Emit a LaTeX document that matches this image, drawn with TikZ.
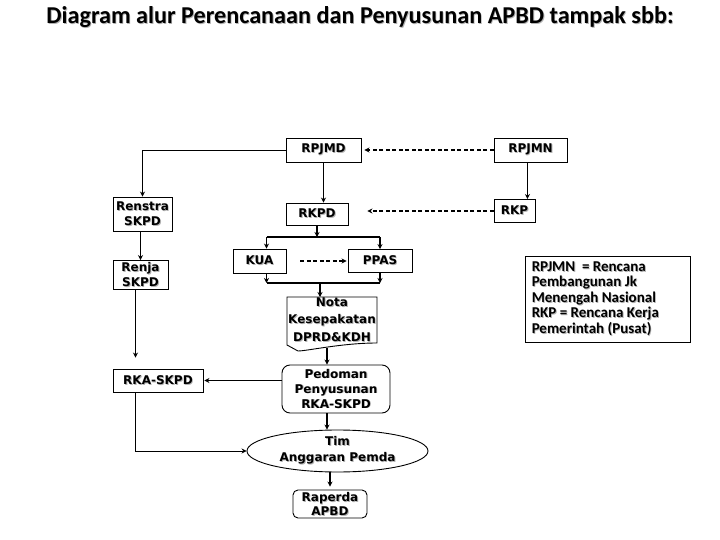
\documentclass[tikz,border=0pt]{standalone}
\usepackage{fontspec}
\setmainfont{DejaVu Sans}
\newfontfamily\titlefont{Carlito}
\usetikzlibrary{arrows.meta,shapes.geometric}
\newcommand\shd[1]{\leavevmode\rlap{\kern0.9pt\raisebox{-0.9pt}{\color{black!30}#1}}#1}
\tikzset{
  box/.style={draw, line width=0.9pt, inner sep=0pt, align=center, font=\bfseries\fontsize{12}{15}\selectfont},
  conn/.style={line width=1.3pt, -{Stealth[length=5pt,width=5pt]}},
  thinconn/.style={line width=0.9pt, -{Stealth[length=5pt,width=5pt]}},
  dasharr/.style={line width=1.2pt, dash pattern=on 4pt off 2.5pt, -{Stealth[length=5pt,width=5pt]}},
  plainline/.style={line width=1.3pt}
}
\begin{document}
\begin{tikzpicture}[x=1pt,y=-1pt]
\useasboundingbox (0,0) rectangle (720,540);
\fill[white] (0,0) rectangle (720,540);

\node[font=\titlefont\bfseries\fontsize{24.2}{28}\selectfont, inner sep=0pt] (title) at (360,18) {\shd{Diagram alur Perencanaan dan Penyusunan APBD tampak sbb:}};

\node[box, minimum width=75pt, minimum height=24pt] (rpjmd) at (323.5,150) {\shd{RPJMD}};
\node[box, minimum width=73pt, minimum height=24pt] (rpjmn) at (530.5,150) {\shd{RPJMN}};
\node[box, minimum width=59pt, minimum height=34pt] (renstra) at (142.5,214) {\shd{Renstra}\\\shd{SKPD}};
\node[box, minimum width=62pt, minimum height=22pt] (rkpd) at (317,214) {\shd{RKPD}};
\node[box, minimum width=41pt, minimum height=23pt] (rkp) at (514.5,211) {\shd{RKP}};
\node[box, minimum width=53pt, minimum height=24pt] (kua) at (259.5,261) {\shd{KUA}};
\node[box, minimum width=64pt, minimum height=23pt] (ppas) at (380,261) {\shd{PPAS}};
\node[box, minimum width=55pt, minimum height=29pt, font=\bfseries\fontsize{12}{14.5}\selectfont] (renja) at (140.5,275) {\shd{Renja}\\\shd{SKPD}};
\node[box, minimum width=90pt, minimum height=23pt] (rka) at (158,380.5) {\shd{RKA-SKPD}};
\node[box, draw=none, minimum width=90pt, minimum height=53pt, font=\bfseries\fontsize{12}{17.5}\selectfont] (nota) at (332,320) {\shd{Nota}\\\shd{Kesepakatan}\\\shd{DPRD\&KDH}};
\draw[line width=0.9pt] ([shift={(-45,-23)}]nota.center) -- ([shift={(45,-23)}]nota.center) -- ([shift={(45,23)}]nota.center)
  .. controls ([shift={(10,23)}]nota.center) and ([shift={(-25,31)}]nota.center) .. ([shift={(-34,31)}]nota.center)
  -- ([shift={(-45,25)}]nota.center) -- cycle;
\coordinate (notab) at ([shift={(-5,28)}]nota.center);
\node[box, rounded corners=8pt, minimum width=108pt, minimum height=48pt] (pedoman) at (336,389) {\shd{Pedoman}\\\shd{Penyusunan}\\\shd{RKA-SKPD}};
\node[box, ellipse, inner sep=0pt, minimum width=181pt, minimum height=42pt, font=\bfseries\fontsize{12}{16}\selectfont] (tim) at (337.5,451) {\shd{Tim}\\\shd{Anggaran Pemda}};
\node[box, rounded corners=5pt, minimum width=74pt, minimum height=28pt, font=\bfseries\fontsize{12}{14}\selectfont] (raperda) at (330,504) {\shd{Raperda}\\\shd{APBD}};
\node[draw, line width=0.9pt, minimum width=165pt, minimum height=86pt, inner sep=0pt] (legend) at (607.5,299) {};
\node[anchor=west, inner sep=0pt, align=left, font=\titlefont\bfseries\fontsize{15}{15.5}\selectfont] (legendtext) at ([xshift=7pt]legend.west) {\shd{RPJMN~~= Rencana}\\\shd{Pembangunan Jk}\\\shd{Menengah Nasional}\\\shd{RKP = Rencana Kerja}\\\shd{Pemerintah (Pusat)}};

% connectors
\draw[thinconn] (rpjmd.west) -| (renstra.north);
\draw[conn] (rpjmd.south) -- (rpjmd.south |- rkpd.north);
\draw[dasharr, shorten >=3pt] (rpjmn.west) -- (rpjmd.east);
\draw[conn] ([xshift=-8pt]rkp.north east |- rpjmn.south) -- ([xshift=-8pt]rkp.north east);
\draw[dasharr, shorten >=19pt] (rkp.west) -- (rkp.west -| rkpd.east);
\draw[conn] (renja.north |- renstra.south) -- (renja.north);

\coordinate (s1) at (320,237);
\draw[conn] (rkpd.south) -- (rkpd.south |- s1);
\draw[plainline] ([xshift=7pt]kua.north |- s1) -- (ppas.north |- s1);
\draw[conn] ([xshift=7pt]kua.north |- s1) -- ([xshift=7pt]kua.north);
\draw[conn] (ppas.north |- s1) -- (ppas.north);
\draw[dasharr, shorten <=14pt, shorten >=1pt] (kua.east) -- (ppas.west);

\coordinate (s2) at (320,283);
\draw[conn] ([xshift=7pt]kua.south) -- ([xshift=7pt]kua.south |- s2);
\draw[conn] (ppas.south) -- (ppas.south |- s2);
\draw[plainline] ([xshift=7pt]kua.south |- s2) -- (ppas.south |- s2);
\draw[conn] (s2) -- (s2 |- 0,297);

\draw[conn] (notab) -- (notab |- pedoman.north);
\draw[conn, shorten >=11pt] ([xshift=-5pt]renja.south) -- ([xshift=-5pt]renja.south |- rka.north);
\draw[conn, shorten >=1pt] (pedoman.west |- rka.east) -- (rka.east);
\draw[thinconn] ([xshift=-23pt]rka.south) |- (tim.west);
\draw[conn] ([xshift=-9pt]pedoman.south) -- ([xshift=-9pt]pedoman.south |- tim.north);
\draw[conn, shorten >=3pt] (tim.south -| raperda.north) -- (raperda.north);
\end{tikzpicture}
\end{document}
